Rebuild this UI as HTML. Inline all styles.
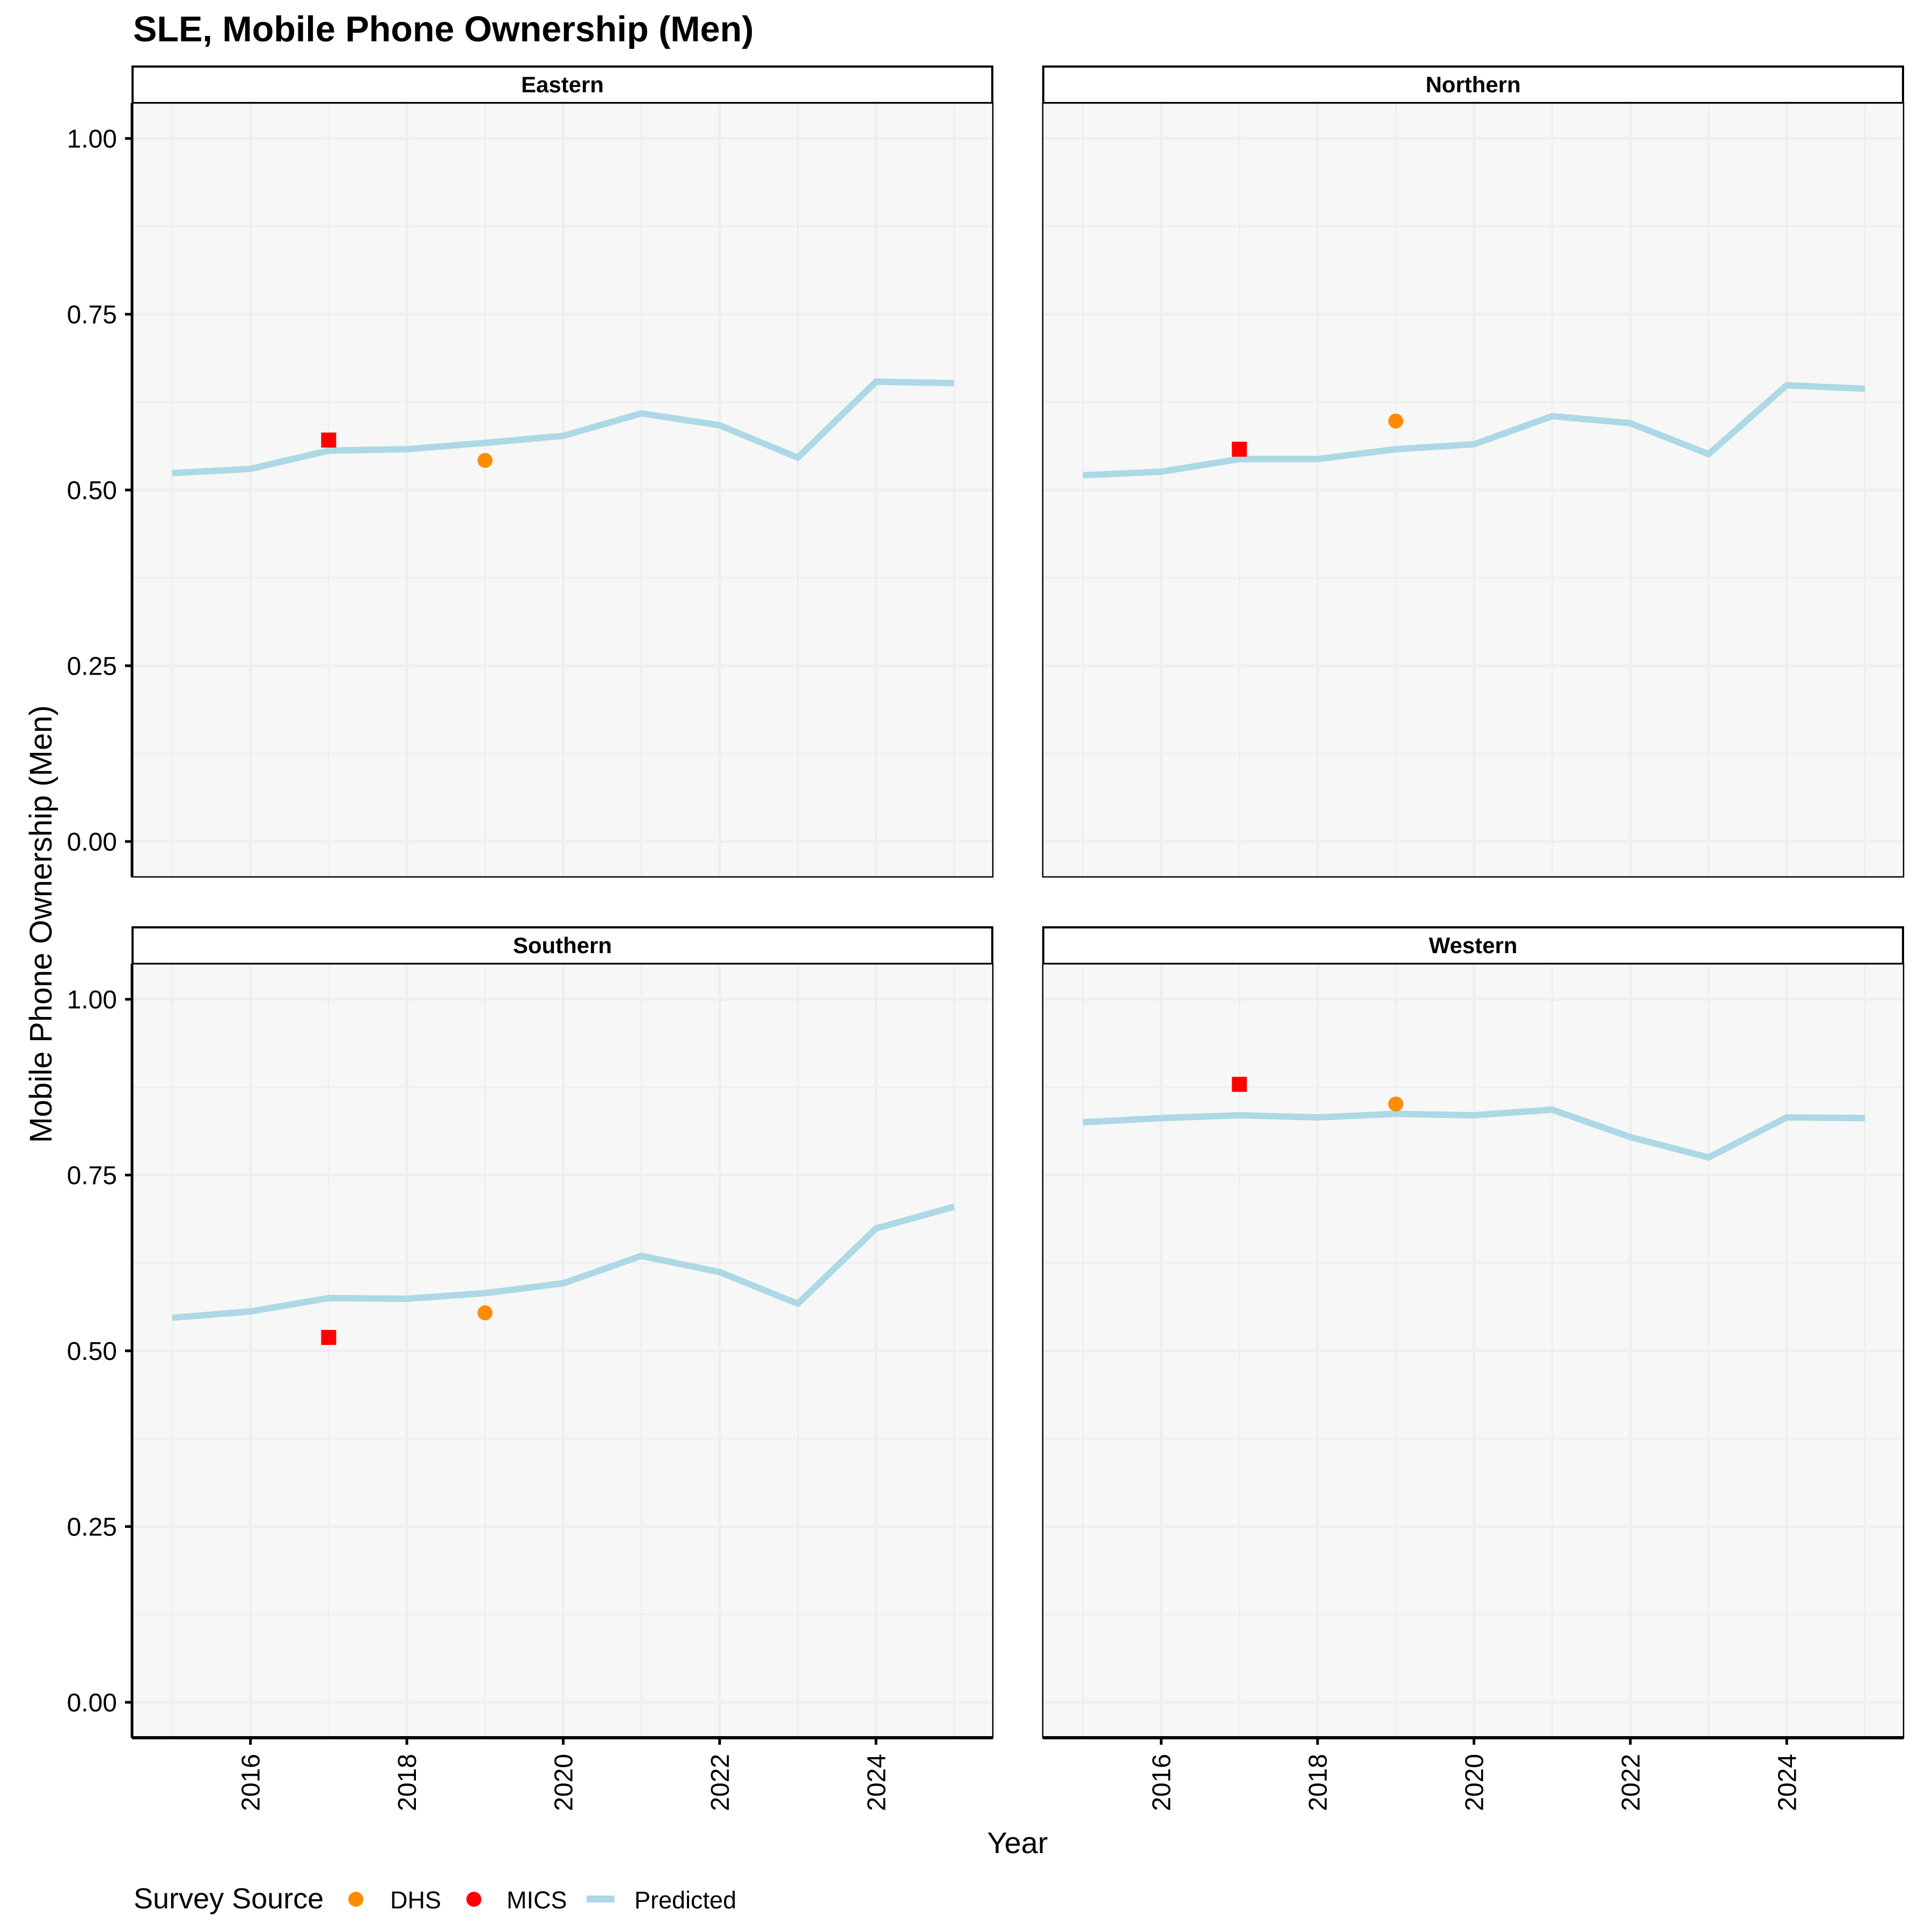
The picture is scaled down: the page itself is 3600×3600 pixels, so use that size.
<!DOCTYPE html>
<html><head><meta charset="utf-8">
<style>
html,body{margin:0;padding:0;background:#fff;}
svg{display:block;font-family:"Liberation Sans",Arial,sans-serif;}
</style></head>
<body>
<svg id="chart" width="3600" height="3600" viewBox="0 0 3600 3600" xmlns="http://www.w3.org/2000/svg">
<rect width="3600" height="3600" fill="#fff"/>
<text x="248" y="77" font-size="66.5" font-weight="bold">SLE, Mobile Phone Ownership (Men)</text>
<text transform="translate(96,1722) rotate(-90)" text-anchor="middle" font-size="58">Mobile Phone Ownership (Men)</text>
<text x="1896" y="3453" text-anchor="middle" font-size="56">Year</text>
<g id="panels"></g>
<g>
<text x="249" y="3556" font-size="54">Survey Source</text>
<circle cx="663" cy="3539" r="14" fill="#FF8C00"/>
<text x="727" y="3556" font-size="45">DHS</text>
<circle cx="883" cy="3539" r="14" fill="#FF0000"/>
<text x="944" y="3556" font-size="45">MICS</text>
<rect x="1093" y="3532" width="52" height="13" fill="#ADD8E6"/>
<text x="1182" y="3556" font-size="45">Predicted</text>
</g>
</svg>
<script>
const years = [2015,2016,2017,2018,2019,2020,2021,2022,2023,2024,2025];
const regions = ["Eastern","Northern","Southern","Western"];
const predEastern = [0.524,0.530,0.556,0.558,0.567,0.577,0.609,0.592,0.546,0.654,0.652];
const predNorthern = [0.521,0.526,0.544,0.544,0.558,0.565,0.605,0.595,0.551,0.649,0.644];
const predSouthern = [0.547,0.556,0.575,0.574,0.582,0.596,0.635,0.612,0.567,0.674,0.705];
const predWestern = [0.825,0.831,0.835,0.832,0.837,0.835,0.843,0.804,0.775,0.832,0.831];
const micsYear = 2017;
const micsValues = [0.571,0.558,0.519,0.879];
const dhsYear = 2019;
const dhsValues = [0.542,0.598,0.554,0.851];
const yTicks = [0,0.25,0.5,0.75,1];
const yTickLabels = ["0.00","0.25","0.50","0.75","1.00"];
const xTicks = [2016,2018,2020,2022,2024];

const NS="http://www.w3.org/2000/svg";
const root=document.getElementById('panels');
function mk(tag,attrs,parent){const e=document.createElementNS(NS,tag);for(const k in attrs)e.setAttribute(k,attrs[k]);(parent||root).appendChild(e);return e;}
const preds=[predEastern,predNorthern,predSouthern,predWestern];
const colX=[246,1943], rowY=[192,1796], PW=1604, PH=1442;
regions.forEach((reg,i)=>{
  const c=i%2, r=Math.floor(i/2);
  const L=colX[c], T=rowY[r], R=L+PW, B=T+PH;
  const x=v=>L+75+(v-2015)*145.7;
  const y=v=>T+66+(1.05-0.05-v)*1310;
  const g=mk('g',{});
  
  
  const strip=mk('rect',{x:L+1,y:T-68,width:PW-2,height:68,fill:'#fff',stroke:'#000','stroke-width':4},g);
  
  
  const st=mk('text',{x:L+PW/2,y:T-20,'text-anchor':'middle','font-size':42,'font-weight':'bold'},g);
  st.textContent=reg;
  
  
  mk('rect',{x:L,y:T,width:PW,height:PH,fill:'#F7F7F7'},g);
  for(let v=0;v<=1.0001;v+=0.125){mk('line',{x1:L,x2:R,y1:y(v),y2:y(v),stroke:'#EEEEEE','stroke-width':v*4%1===0?5:3},g);}
  years.forEach(yr=>{mk('line',{x1:x(yr),x2:x(yr),y1:T,y2:B,stroke:'#EEEEEE','stroke-width':yr%2===0?5:3},g);});
  const pts=years.map((yr,j)=>x(yr)+','+y(preds[i][j])).join(' ');
  const line=mk('polyline',{points:pts,fill:'none',stroke:'#ADD8E6','stroke-width':12,'stroke-linejoin':'miter'},g);
  
  
  const sq=mk('rect',{x:x(micsYear)-14,y:y(micsValues[i])-14,width:28,height:28,fill:'#FF0000'},g);
  
  
  const ci=mk('circle',{cx:x(dhsYear),cy:y(dhsValues[i]),r:14,fill:'#FF8C00'},g);
  
  
  mk('rect',{x:L,y:T,width:PW,height:PH,fill:'none',stroke:'#000','stroke-width':2.5},g);
  if(c===0){
    mk('line',{x1:L,x2:L,y1:T,y2:B,stroke:'#000','stroke-width':5},g);
    yTicks.forEach((v,k)=>{
      mk('line',{x1:L-13,x2:L,y1:y(v),y2:y(v),stroke:'#000','stroke-width':5},g);
      const t=mk('text',{x:L-28,y:y(v)+17,'text-anchor':'end','font-size':48},g);
      t.textContent=yTickLabels[k];
      
      
    });
  }
  if(r===1){
    mk('line',{x1:L,x2:R,y1:B,y2:B,stroke:'#000','stroke-width':6},g);
    xTicks.forEach(v=>{
      mk('line',{x1:x(v),x2:x(v),y1:B,y2:B+13,stroke:'#000','stroke-width':5},g);
      const t=mk('text',{'text-anchor':'end','font-size':48,transform:'translate('+(x(v)+17)+','+(B+30)+') rotate(-90)'},g);
      t.textContent=v;
      
      
    });
  }
});
</script>
</body></html>
